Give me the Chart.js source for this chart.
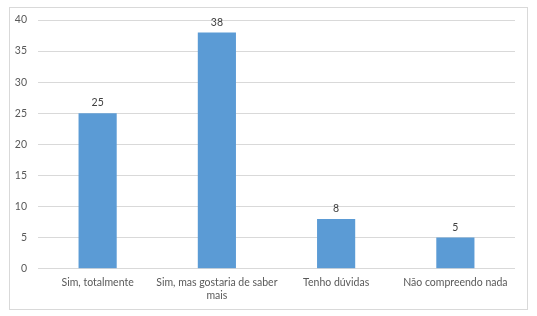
<!DOCTYPE html>
<html><head><meta charset="utf-8">
<script src="https://cdn.jsdelivr.net/npm/chart.js@4"></script>
<style>html,body{margin:0;padding:0;background:#fff}#wrap{width:537px;height:316px}</style>
</head><body><div id="wrap"><canvas id="c" width="537" height="316"></canvas></div>
<script>
const categories = ['Sim, totalmente', ['Sim, mas gostaria de saber', 'mais'], 'Tenho dúvidas', 'Não compreendo nada'];
const values = [25, 38, 8, 5];
const yTicks = [0, 5, 10, 15, 20, 25, 30, 35, 40];

const FONT = {family: 'Lato, "Liberation Sans", sans-serif', size: 10.5};
const TXT = '#595959';

const frame = {
  id: 'frame',
  beforeDraw(chart) {
    const ctx = chart.ctx;
    ctx.save();
    ctx.fillStyle = '#fff';
    ctx.fillRect(0, 0, chart.width, chart.height);
    ctx.strokeStyle = '#d9d9d9';
    ctx.lineWidth = 1;
    ctx.strokeRect(9.5, 7.5, 518, 302);
    ctx.restore();
  }
};
const dataLabels = {
  id: 'dataLabels',
  afterDatasetsDraw(chart) {
    const ctx = chart.ctx;
    ctx.save();
    ctx.font = FONT.size + 'px ' + FONT.family;
    ctx.fillStyle = '#404040';
    ctx.textAlign = 'center';
    ctx.textBaseline = 'bottom';
    chart.getDatasetMeta(0).data.forEach((bar, i) => {
      ctx.fillText(String(values[i]), bar.x, bar.y - 5);
    });
    ctx.restore();
  }
};

new Chart(document.getElementById('c'), {
  type: 'bar',
  data: {
    labels: categories,
    datasets: [{
      data: values,
      backgroundColor: '#5B9BD5',
      borderColor: '#6FA8DC',
      borderWidth: 0,
      categoryPercentage: 1,
      barPercentage: 0.32
    }]
  },
  options: {
    responsive: false,
    animation: false,
    devicePixelRatio: 1,
    layout: {padding: {left: 0, right: 22, top: 20, bottom: 0}},
    plugins: {legend: {display: false}, tooltip: {enabled: false}},
    scales: {
      x: {
        grid: {display: false, drawTicks: false},
        border: {display: false},
        ticks: {color: TXT, font: FONT, padding: 8, maxRotation: 0, autoSkip: false},
        afterFit(s) { s.height = 47.3; }
      },
      y: {
        min: 0, max: 40,
        afterBuildTicks(s) { s.ticks = yTicks.map(v => ({value: v})); },
        grid: {color: '#d9d9d9', lineWidth: 1, drawTicks: false},
        border: {display: false},
        ticks: {color: TXT, font: FONT, padding: 11},
        afterFit(s) { s.width = 38; }
      }
    }
  },
  plugins: [frame, dataLabels]
});
</script></body></html>
